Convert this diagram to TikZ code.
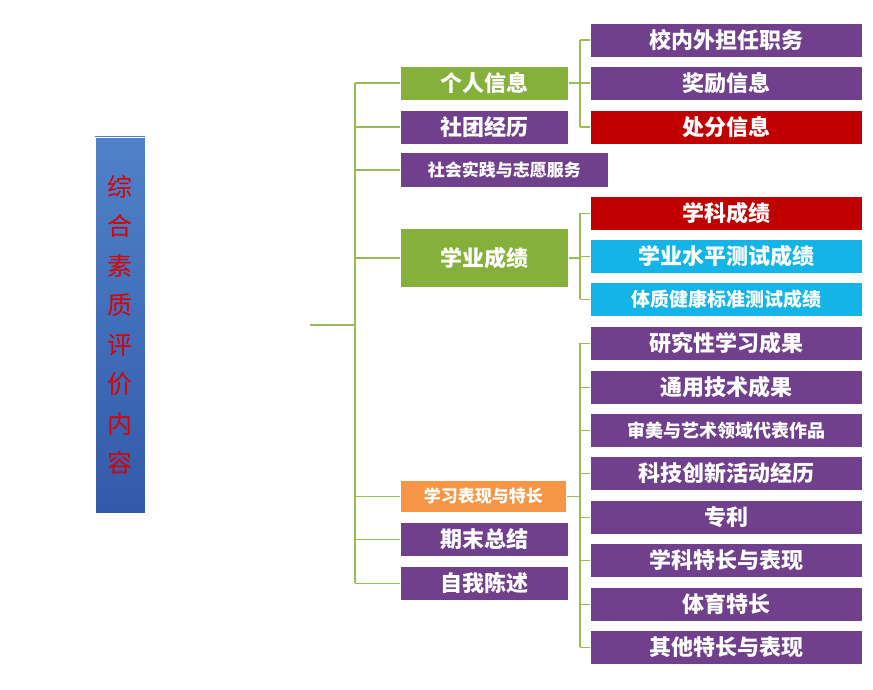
\documentclass[tikz,border=0pt]{standalone}
\usepackage{fontspec}
\newfontfamily\cjk{Noto Sans CJK SC}
\usetikzlibrary{calc}
\definecolor{lnk}{RGB}{155,187,89}
\definecolor{pur}{RGB}{112,64,140}
\definecolor{grn}{RGB}{134,176,60}
\definecolor{rd}{RGB}{192,0,0}
\definecolor{cy}{RGB}{20,180,230}
\definecolor{org}{RGB}{247,150,70}
\definecolor{bltop}{RGB}{80,130,200}
\definecolor{blbot}{RGB}{50,90,170}
\tikzset{
  box/.style={draw=white,line width=0.6pt,text=white,font=\cjk\bfseries\fontsize{22}{22}\selectfont,
    inner sep=0pt,anchor=north west,minimum height=34pt},
  link/.style={draw=lnk,line width=1.6pt}
}
\begin{document}
\begin{tikzpicture}[x=1pt,y=-1pt]
        \useasboundingbox (0,0) rectangle (873,690);

        % Title column
        \shade[top color=bltop,bottom color=blbot,draw=white] (95,137) rectangle (145,513);
        \node (title) at (120,325) [align=center,text=red!85!black,font=\cjk\fontsize{25}{39.5}\selectfont]
            {综\\合\\素\\质\\评\\价\\内\\容};

        % Trunk
        \coordinate (t0) at (310,325);
        \coordinate (t1) at (355,325);
        \draw[link] (t0) -- (t1);
        \draw[link] (355,83) -- (355,583);

        % First level
        \node (p) [box,fill=grn,minimum width=168pt] at (400,66) {个人信息};
        \node (s) [box,fill=pur,minimum width=168pt] at (400,110) {社团经历};
        \node (v) [box,fill=pur,minimum width=208pt,minimum height=35pt,font=\cjk\bfseries\fontsize{17}{17}\selectfont] at (400,152) {社会实践与志愿服务};
        \node (a) [box,fill=grn,minimum width=168pt,minimum height=59pt] at (400,228) {学业成绩};
        \node (e) [box,fill=org,minimum width=166pt,minimum height=32pt,font=\cjk\bfseries\fontsize{17}{17}\selectfont] at (400,480) {学习表现与特长};
        \node (q) [box,fill=pur,minimum width=168pt] at (400,522) {期末总结};
        \node (m) [box,fill=pur,minimum width=168pt] at (400,566) {自我陈述};
        \foreach \n in {p,s,v,a,e,q,m}
            \draw[link] (355,0 |- \n.west) -- (\n.west);

        % Second level, personal
        \node (p1) [box,fill=pur,minimum width=272pt] at (590,23) {校内外担任职务};
        \node (p2) [box,fill=pur,minimum width=272pt] at (590,66) {奖励信息};
        \node (p3) [box,fill=rd,minimum width=272pt] at (590,110) {处分信息};
        \draw[link] (580,0 |- p1.west) -- (580,0 |- p3.west);
        \draw[link] (p.east) -- (580,0 |- p.east);
        \foreach \n in {p1,p2,p3}
            \draw[link] (580,0 |- \n.west) -- (\n.west);

        % Second level, grades
        \node (a1) [box,fill=rd,minimum width=272pt] at (590,196) {学科成绩};
        \node (a2) [box,fill=cy,minimum width=272pt] at (590,239) {学业水平测试成绩};
        \node (a3) [box,fill=cy,minimum width=272pt,font=\cjk\bfseries\fontsize{19}{19}\selectfont] at (590,282) {体质健康标准测试成绩};
        \draw[link] (580,0 |- a1.west) -- (580,0 |- a3.west);
        \draw[link] (a.east) -- (580,0 |- a.east);
        \foreach \n in {a1,a2,a3}
            \draw[link] (580,0 |- \n.west) -- (\n.west);

        % Second level, talents
        \foreach \n/\y/\t in {e1/326/研究性学习成果,e2/370/通用技术成果,e3/413/{\fontsize{18}{18}\selectfont 审美与艺术领域代表作品},
                e4/456/科技创新活动经历,e5/500/专利,e6/543/学科特长与表现,e7/587/体育特长,e8/630/其他特长与表现}{
            \node (\n) [box,fill=pur,minimum width=272pt] at (590,\y) {\t};
            \draw[link] (580,0 |- \n.west) -- (\n.west);
        }
        \draw[link] (580,0 |- e1.west) -- (580,0 |- e8.west);
        \draw[link] (e.east) -- (580,0 |- e.east);
\end{tikzpicture}
\end{document}
